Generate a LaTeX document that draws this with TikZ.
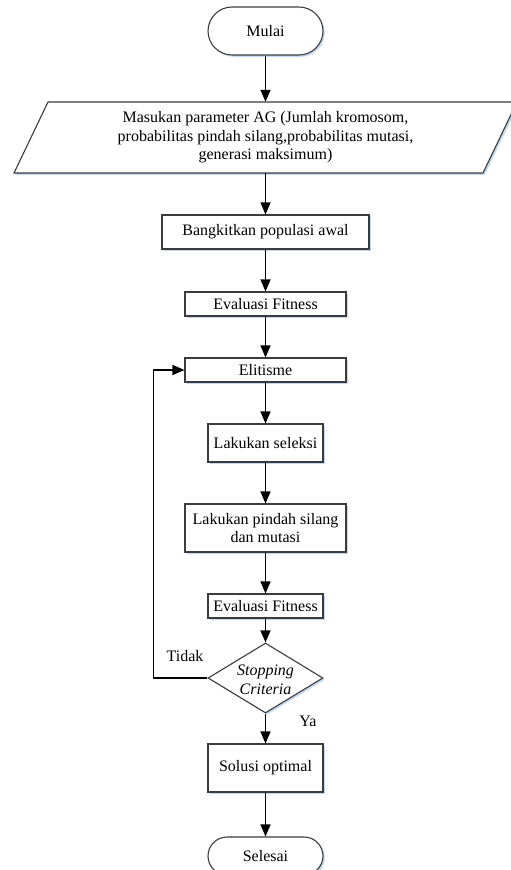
\documentclass[tikz,border=0pt]{standalone}
\usepackage{fontspec}
\setmainfont{Liberation Serif}
\usetikzlibrary{shapes.geometric,arrows.meta,shadows}
\definecolor{shadowblue}{RGB}{196,216,240}
\definecolor{boxline}{RGB}{60,60,60}
\tikzset{
  shad/.style={general shadow={fill=shadowblue, shadow xshift=1.8pt, shadow yshift=-1.8pt}},
  proc/.style={draw=boxline, line width=1.1pt, fill=white, shad, inner sep=0pt,
    align=center, font=\fontsize{16}{18.5}\selectfont},
  term/.style={proc},
  arr/.style={line width=1.3pt, -{Triangle[length=12pt,width=10pt]}},
  lbl/.style={font=\fontsize{16}{18.5}\selectfont, inner sep=0pt}
}
\begin{document}
\begin{tikzpicture}[x=1pt,y=-1pt]
\useasboundingbox (0,0) rectangle (511,870);
% start
\node[term, minimum width=115pt, minimum height=48pt, rounded corners=24pt] (mulai) at (265.5,31) {Mulai};
% input parallelogram
\path[draw=boxline, line width=1.1pt, fill=white, shad] (48,102) -- (517,102) -- (483,173) -- (14,173) -- cycle;
\node[lbl, minimum width=400pt, minimum height=71pt, align=center] (para) at (265.5,137.5)
  {Masukan parameter AG (Jumlah kromosom,\\probabilitas pindah silang,probabilitas mutasi,\\generasi maksimum)};
\node[proc, minimum width=207pt, minimum height=34pt] (bangkit) at (265.5,232) {Bangkitkan populasi awal};
\node[proc, minimum width=161pt, minimum height=24pt] (eval1) at (265.5,304) {Evaluasi Fitness};
\node[proc, minimum width=161pt, minimum height=24pt] (elit) at (265.5,370) {Elitisme};
\node[proc, minimum width=115pt, minimum height=38pt] (seleksi) at (265.5,443) {Lakukan seleksi};
\node[proc, minimum width=161pt, minimum height=48pt] (silang) at (265.5,528) {Lakukan pindah silang\\dan mutasi};
\node[proc, minimum width=115pt, minimum height=24pt] (eval2) at (265.5,606) {Evaluasi Fitness};
\node[proc, shape=diamond, minimum width=115pt, minimum height=70pt] (stop) at (265.5,678) {};
\node[lbl, align=center, font=\fontsize{16}{18.5}\selectfont\itshape] (stoptext) at (265.5,680) {Stopping\\Criteria};
\node[proc, minimum width=115pt, minimum height=48pt] (solusi) at (265.5,768) {Solusi optimal};
\node[term, minimum width=115pt, minimum height=38pt, rounded corners=19pt] (selesai) at (265.5,856) {Selesai};
% labels
\node[lbl] (tidak) at (185,656) {Tidak};
\node[lbl] (ya) at (308,721) {Ya};
% connectors
\draw[arr] (mulai.south) -- (para.north);
\draw[arr] (para.south) -- (bangkit.north);
\draw[arr] (bangkit.south) -- (eval1.north);
\draw[arr] (eval1.south) -- (elit.north);
\draw[arr] (elit.south) -- (seleksi.north);
\draw[arr] (seleksi.south) -- (silang.north);
\draw[arr] (silang.south) -- (eval2.north);
\draw[arr] (eval2.south) -- (stop.north);
\draw[arr] (stop.south) -- (solusi.north);
\draw[arr] (solusi.south) -- (selesai.north);
\draw[arr] (stop.west) -- ++(-54,0) |- (elit.west);
\end{tikzpicture}
\end{document}
